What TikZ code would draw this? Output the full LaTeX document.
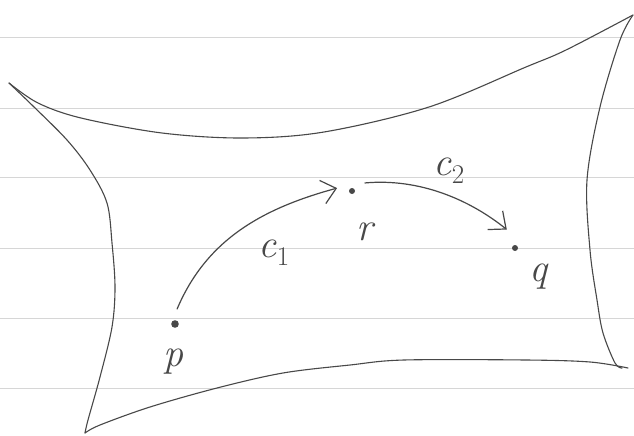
\documentclass[tikz,border=0pt]{standalone}
\usetikzlibrary{arrows.meta}
\definecolor{pencil}{RGB}{72,72,72}
\definecolor{ruleline}{RGB}{214,214,214}
\newcommand{\subidx}[1]{\raisebox{-8pt}{\fontsize{27}{30}\selectfont\upshape #1}}
\begin{document}
\begin{tikzpicture}[x=1pt,y=-1pt,
  ruling/.style={ruleline, line width=0.8pt},
  outline/.style={pencil, line width=1.1pt, line cap=round, line join=round},
  pt/.style={circle, minimum size=30pt, inner sep=0pt,
    path picture={\fill[pencil] (path picture bounding box.center) circle (3pt);}},
  bigpt/.style={circle, minimum size=30pt, inner sep=0pt,
    path picture={\fill[pencil] (path picture bounding box.center) circle (3.8pt);}},
  curvearrow/.style={pencil, line width=1.2pt, line cap=round,
    -{Straight Barb[length=14pt,width=24pt,line width=1.2pt]}},
  lbl/.style={text=pencil, font=\fontsize{40}{48}\selectfont\itshape, inner sep=0pt}
]
\fill[white] (0,0) rectangle (634,436);
\useasboundingbox (0,0) rectangle (634,436);

\foreach \yy in {37,108,177,248,318,388}
  \draw[ruling] (0,\yy) -- (634,\yy);

% sheet outline
\draw[outline] plot[smooth,tension=0.55] coordinates
  {(9,83) (38,103) (81,118) (162,133) (243,138) (324,132) (429,107) (526,67) (566,50) (633,15)};
\draw[outline] plot[smooth,tension=0.55] coordinates
  {(9,83) (33,106) (67,140) (90,170) (107,203) (112,243) (115,287) (112,327) (100,377) (88,420) (85,433)};
\draw[outline] plot[smooth,tension=0.55] coordinates
  {(85,433) (100,425) (150,407) (217,388) (283,373) (350,365) (404,360) (526,360) (590,362) (628,368)};
\draw[outline] plot[smooth,tension=0.55] coordinates
  {(633,15) (620,40) (600,107) (587,180) (590,250) (597,300) (603,333) (615,363) (622,368)};

% points
\node[bigpt] (p) at (175,324) {};
\node[pt] (r) at (352,191) {};
\node[pt, minimum size=40pt] (q) at (515,248) {};

% curves
\draw[curvearrow] (p.82) .. controls (206,241) and (260,209) .. (r.169);
\draw[curvearrow] (r.32) .. controls (420,178) and (470,200) .. (q.114);

% labels
\node[lbl] (lp) at (173,362) {p};
\node[lbl] (lr) at (365,232) {r};
\node[lbl] (lq) at (538,277) {q};
\node[lbl] (lc1) at (274,253) {c\subidx{1}};
\node[lbl] (lc2) at (449,171) {c\subidx{2}};
\end{tikzpicture}
\end{document}
